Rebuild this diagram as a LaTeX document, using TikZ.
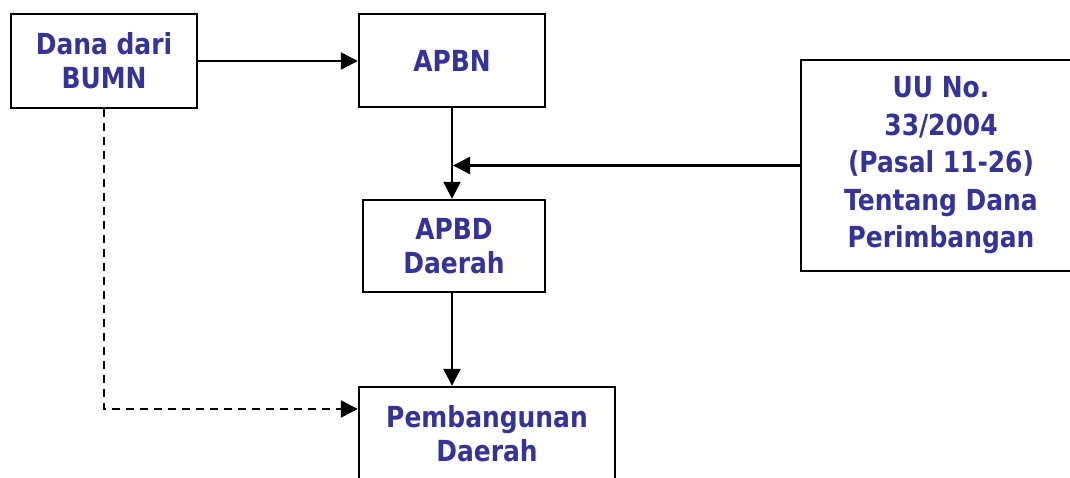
\documentclass[tikz,border=0pt]{standalone}
\usepackage{fontspec}
\setmainfont{DejaVu Sans}[FakeStretch=0.86]
\usepackage{xcolor}
\usetikzlibrary{arrows.meta,positioning}

\definecolor{labelblue}{RGB}{51,51,153}

\begin{document}
\begin{tikzpicture}[
  x=1pt,y=-1pt,
  box/.style={
    rectangle,draw,line width=2.4pt,
    inner sep=0pt,
    text=labelblue,font=\bfseries\fontsize{29}{34}\selectfont,
    align=center
  },
  arrow/.style={-{Triangle[length=17pt,width=17pt]},line width=2.4pt},
  dasharrow/.style={arrow,dash pattern=on 8pt off 6pt}
]
\clip (0,0) rectangle (1070,478);

\node[box, minimum width=186pt, minimum height=94pt] (bumn) at (104,61) {Dana dari\\BUMN};
\node[box, minimum width=186pt, minimum height=93pt] (apbn) at (452,60.5) {APBN};
\node[box, minimum width=182pt, minimum height=92pt] (apbd) at (454,246) {APBD\\Daerah};
\node[box, minimum width=280pt, minimum height=211pt,
      font=\bfseries\fontsize{29}{37.5}\selectfont] (uu) at (941,165.5)
  {UU No.\\33/2004\\ (Pasal 11-26)\\Tentang Dana\\Perimbangan};
\node[box, minimum width=256pt, minimum height=94pt] (pemb) at (487,434) {Pembangunan\\Daerah};

\coordinate (join) at (apbn.south |- uu.west);
\coordinate (pembin) at (pemb.west |- 0,409);

\draw[arrow] (bumn.east) -- (bumn.east -| apbn.west);
\draw[arrow] (apbn.south) -- (apbn.south |- apbd.north);
\draw[arrow,shorten >=1pt] (uu.west) -- (join);
\draw[arrow] (apbn.south |- apbd.south) -- (apbn.south |- pemb.north);
\draw[dasharrow] (bumn.south) |- (pembin);

\end{tikzpicture}
\end{document}
